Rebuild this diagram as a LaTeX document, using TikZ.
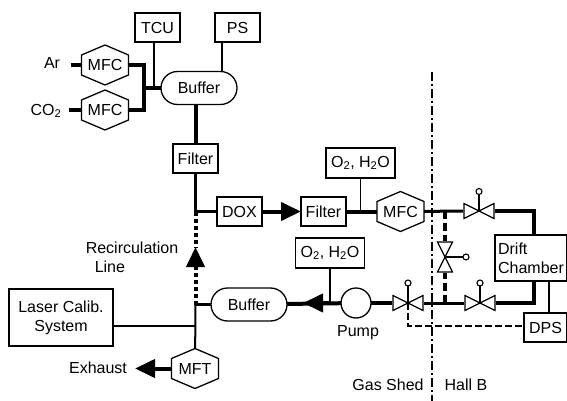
\documentclass[tikz,border=0pt]{standalone}
\usepackage{fontspec}
\setmainfont{Liberation Sans}
\usetikzlibrary{shapes.misc,shapes.geometric,positioning,calc,arrows.meta}

\tikzset{
    boxnode/.style={rectangle, draw, line width=1.3pt, outer sep=0pt, inner sep=1pt, minimum width=45pt, minimum height=29pt, align=center},
    hexnode/.style={rectangle, outer sep=0pt, inner sep=0pt, minimum width=47pt, minimum height=40pt, append after command={\pgfextra{
        \draw[line width=1.3pt] (\tikzlastnode.north) -- ($(\tikzlastnode.north east)!0.25!(\tikzlastnode.south east)$) -- ($(\tikzlastnode.north east)!0.75!(\tikzlastnode.south east)$) -- (\tikzlastnode.south) -- ($(\tikzlastnode.north west)!0.75!(\tikzlastnode.south west)$) -- ($(\tikzlastnode.north west)!0.25!(\tikzlastnode.south west)$) -- cycle;}}},
    bufnode/.style={rounded rectangle, draw, line width=1.3pt, outer sep=0pt, inner sep=0pt, minimum width=76pt, minimum height=33pt},
    valvenode/.style={rectangle, outer sep=0pt, inner sep=0pt, minimum width=32pt, minimum height=17pt, path picture={
        \draw[line width=1.2pt, shift={(path picture bounding box.center)}] (-15,-7.5) -- (15,7.5) -- (15,-7.5) -- (-15,7.5) -- cycle;}},
    vvalvenode/.style={rectangle, outer sep=0pt, inner sep=0pt, minimum width=17pt, minimum height=32pt, path picture={
        \draw[line width=1.2pt, shift={(path picture bounding box.center)}] (-7.5,-15) -- (7.5,-15) -- (-7.5,15) -- (7.5,15) -- cycle;}},
    knob/.style={circle, draw, line width=1.1pt, outer sep=0pt, inner sep=0pt, minimum size=6pt},
    thin line/.style={line width=1.3pt},
    heavy/.style={line width=4pt},
    midline/.style={line width=3pt},
    head/.style={-{Triangle[length=20pt,width=18pt]}},
}

\begin{document}
\begin{tikzpicture}[x=1pt, y=-1pt, font=\fontsize{16}{19}\selectfont]
    \useasboundingbox (0,0) rectangle (567,401);

    \node[boxnode] (tcu) at (157.5,27.5) {TCU};
    \node[boxnode, right=35pt of tcu] (ps) {PS};
    \node[bufnode] (buffertop) at (199,88) {Buffer};
    \node[hexnode] (mfcar) at (105,65) {MFC};
    \node[hexnode, below=5pt of mfcar] (mfcco) {MFC};
    \node (ar) at (52,63) {Ar};
    \node (co) at (46,111) {CO\textsubscript{2}};
    \node[boxnode] (filtertop) at (195.5,158.5) {Filter};
    \node[boxnode] (dox) at (239.5,211.5) {DOX};
    \node[boxnode, right=39pt of dox] (filtermid) {Filter};
    \node[hexnode, right=31pt of filtermid] (mfcmid) {MFC};
    \node[boxnode, minimum width=69pt, minimum height=30pt] (gasupper) at (360.5,163) {O\textsubscript{2}, H\textsubscript{2}O};

    \node[bufnode] (bufferlow) at (249,304.5) {Buffer};
    \node[circle, draw, line width=1.3pt, outer sep=0pt, minimum size=30pt] (pump) at (356,303) {};
    \node (pumptext) at (358,333) {Pump};
    \node[boxnode, minimum width=69pt, minimum height=30pt] (gaslower) at (330,253) {O\textsubscript{2}, H\textsubscript{2}O};
    \node[boxnode, minimum width=104pt, minimum height=57pt] (laser) at (61,317.5) {Laser Calib.\\System};
    \node[hexnode] (mft) at (195,368.5) {MFT};
    \node (exhaust) at (98,368) {Exhaust};
    \node[align=left] (recirc) at (132,257.5) {Recirculation\\\hspace*{9pt}Line};

    \node[valvenode] (valvemid) at (479,211) {};
    \node[knob] (knobmid) at (479,191.5) {};
    \node[valvenode] (valvepump) at (408,303) {};
    \node[knob] (knobpump) at (408,283) {};
    \node[valvenode] (valvelow) at (480,303) {};
    \node[knob] (knoblow) at (480,283) {};
    \node[vvalvenode] (valveby) at (445,257) {};
    \node[knob] (knobby) at (466,257) {};

    \node[boxnode, minimum width=72pt, minimum height=46pt, align=left] (chamber) at (531,258) {Drift\\Chamber};
    \node[boxnode, minimum width=43pt] (dps) at (545.5,327.5) {DPS};
    \node (shed) at (388,385) {Gas Shed};
    \node (hallb) at (466,385) {Hall B};

    \coordinate (jtop) at (144,88);
    \coordinate (jdox) at (195.5,211.5);
    \coordinate (jlow) at (195.5,304.5);
    \coordinate (recirctip) at (195.5,247);
    \coordinate (exhausttip) at (135,368.5);
    \coordinate (jmid) at (445,211);
    \coordinate (jby) at (445,303);
    \coordinate (cornermid) at (534,211);
    \coordinate (cornerlow) at (534,303);
    \coordinate (shedtop) at (432,72);
    \coordinate (shedend) at (432,401);
    \coordinate (dashcorner) at (408,326);

    \draw[heavy] (ar.east) ++(7,2) -- (mfcar);
    \draw[heavy] (co.east) ++(4,-1) -- (mfcco);
    \draw[heavy] (mfcar.east) -| (jtop) |- (mfcco.east);
    \draw[heavy] (jtop) -- (buffertop);
    \draw[thin line] (tcu.south -| 154,0) -- (154,88);
    \draw[thin line] (ps.south -| 222,0) -- (222,72);
    \draw[heavy] (buffertop.south -| filtertop) -- (filtertop);
    \draw[midline] (filtertop) -- (jdox);
    \draw[midline] (jdox) -- (dox);
    \draw[heavy, dash pattern=on 4pt off 3pt] (jdox) -- (recirctip);
    \draw[heavy, dash pattern=on 4pt off 3pt, head] (jlow) -- (recirctip);
    \draw[midline] (jlow) -- (bufferlow);
    \draw[line width=2pt] (jlow) -- (mft);
    \draw[thin line] (laser.east |- 0,326) -- (195.5,326);
    \draw[heavy] (mft) -- (exhausttip) [head];

    \draw[heavy, head] (dox) -- (filtermid);
    \draw[heavy] (filtermid) -- (mfcmid);
    \draw[thin line] (gasupper.south) -- (gasupper |- filtermid);
    \draw[midline] (mfcmid) -- (valvemid);
    \draw[heavy] (valvemid) -- (cornermid) -- (chamber.north -| cornermid);
    \draw[thin line] (valvemid.center) -- (knobmid);

    \draw[heavy] (pump) -- (bufferlow);
    \draw[heavy, head] (gaslower |- pump) -- (303,303);
    \draw[thin line] (gaslower.south) -- (gaslower |- pump);
    \draw[heavy] (pump) -- (valvepump);
    \draw[thin line] (valvepump.center) -- (knobpump);
    \draw[midline] (valvepump) -- (valvelow);
    \draw[thin line] (valvelow.center) -- (knoblow);
    \draw[heavy] (valvelow) -- (cornerlow) -- (chamber.south -| cornerlow);
    \draw[thin line] (chamber.south -| 549,0) -- (dps.north -| 549,0);

    \draw[heavy, dash pattern=on 8pt off 4pt] (jmid) -- (valveby);
    \draw[heavy, dash pattern=on 8pt off 4pt] (jby) -- (valveby);
    \draw[thin line] (valveby.center) -- (knobby);

    \draw[thin line, dash pattern=on 7pt off 3pt] (valvepump.center) -- (dashcorner) -- (dps.west |- dashcorner);
    \draw[thin line, dash pattern=on 9pt off 3pt on 2pt off 3pt] (shedtop) -- (shedend);
\end{tikzpicture}
\end{document}
